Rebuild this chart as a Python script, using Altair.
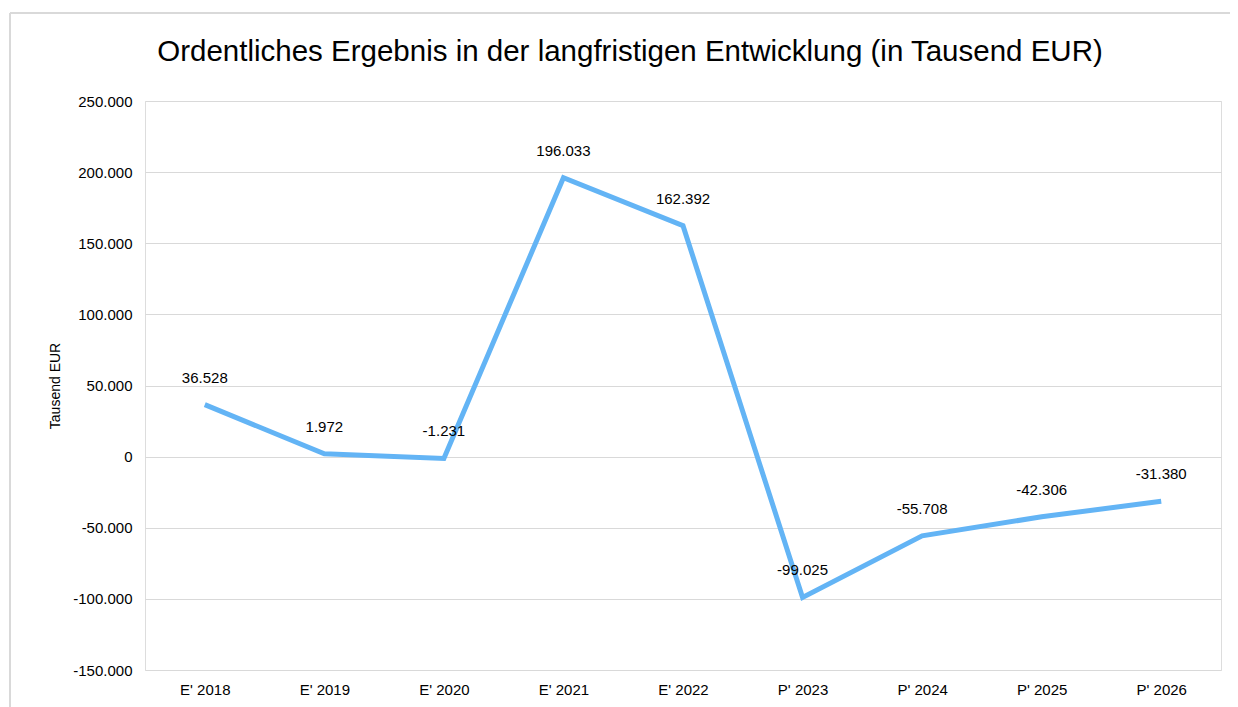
import altair as alt
import pandas as pd

categories = ["E' 2018", "E' 2019", "E' 2020", "E' 2021", "E' 2022",
              "P' 2023", "P' 2024", "P' 2025", "P' 2026"]
values = [36528, 1972, -1231, 196033, 162392, -99025, -55708, -42306, -31380]
y_ticks = [-150000, -100000, -50000, 0, 50000, 100000, 150000, 200000, 250000]

df = pd.DataFrame({"cat": categories, "val": values})

FONT = "Liberation Sans"
fmt = "replace(replace(format({v}, ','), ',', '.'), '\u2212', '-')"

x_enc = alt.X("cat:N", sort=categories, title=None,
              scale=alt.Scale(type="point", padding=0.5),
              axis=alt.Axis(labelAngle=0, ticks=False, domain=False, grid=False,
                            labelFont=FONT, labelFontSize=15, labelColor="#000000",
                            labelPadding=12))
y_enc = alt.Y("val:Q", title="Tausend EUR",
              scale=alt.Scale(domain=[-150000, 250000], nice=False, zero=False),
              axis=alt.Axis(values=y_ticks, ticks=False, domain=False, grid=True,
                            gridColor="#d9d9d9", gridWidth=1,
                            labelFont=FONT, labelFontSize=15, labelColor="#000000",
                            labelPadding=13,
                            labelExpr=fmt.format(v="datum.value"),
                            titleFont=FONT, titleFontSize=14, titleFontWeight="normal",
                            titleColor="#000000", titlePadding=10))

base = alt.Chart(df)

line = base.mark_line(color="#63b4f5", strokeWidth=5, strokeJoin="miter").encode(
    x=x_enc, y=y_enc)

labels = base.transform_calculate(
    lbl=fmt.format(v="datum.val")
).mark_text(font=FONT, fontSize=15, color="#000000", dy=-27, baseline="middle").encode(
    x=alt.X("cat:N", sort=categories), y="val:Q", text="lbl:N")

frame_top = alt.Chart(df).mark_rule(color="#d9d9d9", strokeWidth=2).encode(
    x=alt.value(-135), x2=alt.value(1100), y=alt.value(-88))
frame_left = alt.Chart(df).mark_rule(color="#d9d9d9", strokeWidth=2).encode(
    x=alt.value(-135), y=alt.value(-88), y2=alt.value(620))

chart = alt.layer(frame_top, frame_left, line, labels).properties(
    width=1076, height=569,
    title=alt.TitleParams(
        "Ordentliches Ergebnis in der langfristigen Entwicklung (in Tausend EUR)",
        font=FONT, fontSize=29.5, fontWeight="normal", color="#000000",
        anchor="middle", dx=-53, offset=-55),
    autosize=alt.AutoSizeParams(type="none"),
    padding={"left": 137, "top": 93, "right": 9, "bottom": 37},
).configure_view(stroke=None).configure(background="#ffffff")

chart.save("out.html", embed_options={"renderer": "svg", "actions": False})
